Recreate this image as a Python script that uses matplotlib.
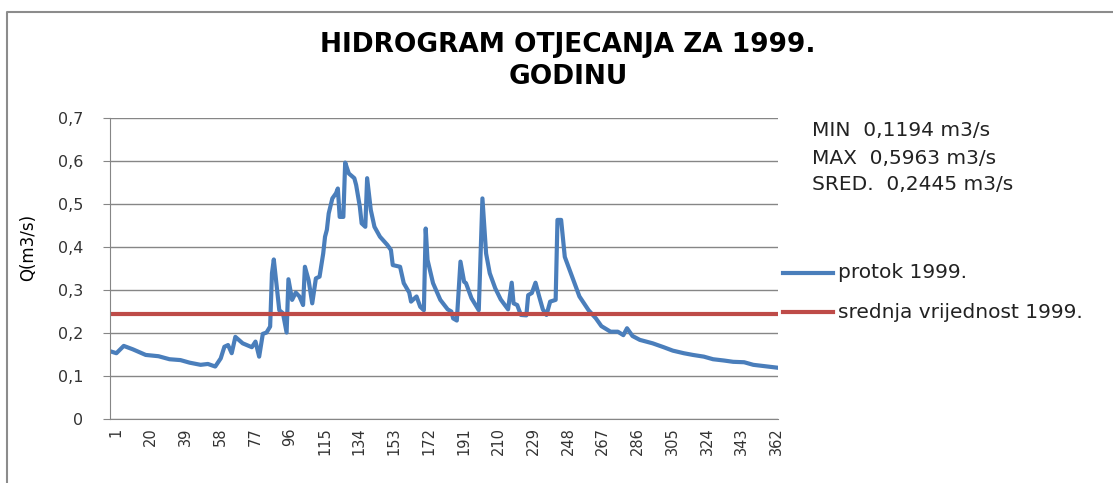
import matplotlib
matplotlib.use('Agg')
import matplotlib.pyplot as plt
from matplotlib.lines import Line2D
from matplotlib.transforms import ScaledTranslation

# daily flow 1999, day of year -> Q [m3/s]
days = [1, 4, 8, 13, 20, 27, 33, 39, 44, 50, 54, 58, 61, 63, 65, 67, 69, 73, 78, 80,
        82, 84, 86, 88, 89, 90, 93, 95, 97, 98, 100, 102, 104, 106, 107, 109, 111, 113, 115, 117,
        118, 119, 120, 122, 124, 125, 126, 128, 129, 131, 134, 135, 137, 138, 140, 141, 143, 145, 148, 152,
        154, 155, 159, 161, 164, 165, 168, 170, 172, 173, 174, 177, 181, 185, 187, 188, 190, 192, 194, 195,
        198, 202, 204, 206, 208, 211, 214, 217, 218, 220, 221, 223, 225, 228, 229, 231, 233, 235, 237, 239,
        241, 244, 245, 247, 249, 251, 254, 257, 262, 266, 269, 274, 278, 281, 283, 286, 290, 297, 303, 308,
        314, 319, 325, 330, 336, 341, 347, 352, 358, 365]
flow = [0.157, 0.153, 0.170, 0.162, 0.149, 0.146, 0.139, 0.137, 0.131, 0.126, 0.128, 0.122, 0.141, 0.168, 0.172, 0.153, 0.191, 0.176, 0.167, 0.180,
        0.145, 0.198, 0.201, 0.215, 0.339, 0.371, 0.253, 0.246, 0.201, 0.325, 0.277, 0.294, 0.285, 0.265, 0.354, 0.323, 0.269, 0.327, 0.331, 0.385,
        0.424, 0.440, 0.478, 0.513, 0.525, 0.536, 0.470, 0.470, 0.5963, 0.571, 0.560, 0.544, 0.494, 0.455, 0.447, 0.560, 0.486, 0.447, 0.424, 0.405,
        0.393, 0.358, 0.354, 0.316, 0.294, 0.273, 0.285, 0.261, 0.253, 0.443, 0.370, 0.316, 0.277, 0.255, 0.250, 0.234, 0.229, 0.366, 0.319, 0.316,
        0.281, 0.253, 0.513, 0.385, 0.339, 0.304, 0.278, 0.261, 0.255, 0.317, 0.269, 0.265, 0.242, 0.241, 0.288, 0.293, 0.317, 0.285, 0.255, 0.242,
        0.273, 0.277, 0.463, 0.463, 0.377, 0.354, 0.319, 0.285, 0.253, 0.234, 0.216, 0.203, 0.203, 0.195, 0.211, 0.193, 0.184, 0.176, 0.167, 0.159,
        0.153, 0.149, 0.145, 0.139, 0.136, 0.133, 0.132, 0.126, 0.123, 0.1194]
q_min = 0.1194
q_max = 0.5963
q_mean = 0.2445
mean_days = [1, 365]

xticks = list(range(1, 366, 19))
yticks = [0, 0.1, 0.2, 0.3, 0.4, 0.5, 0.6, 0.7]
ylabels = ['0', '0,1', '0,2', '0,3', '0,4', '0,5', '0,6', '0,7']

blue = '#4A7EBB'
red = '#BE4B48'
grid = '#868686'

W, H = 1113, 483
fig = plt.figure(figsize=(W / 100, H / 100), dpi=100)
ax = fig.add_axes([110 / W, 1 - 419 / H, 668 / W, 301 / H])

ax.plot(days, flow, color=blue, lw=3, solid_joinstyle='round')
ax.plot(mean_days, [q_mean, q_mean], color=red, lw=3)

ax.set_xlim(0.5, 365.5)
ax.set_ylim(0, 0.7)
ax.set_yticks(yticks)
ax.set_yticklabels(ylabels)
ax.set_xticks(xticks)
ax.set_xticklabels([str(t) for t in xticks], rotation=90)
ax.tick_params(axis='y', length=5, color=grid, pad=14, labelsize=11.5, labelcolor='#333333')
ax.tick_params(axis='x', length=0, pad=6, labelsize=10.5, labelcolor='#333333')
# excel puts the rotated labels a bit right of the category
for lab in ax.get_xticklabels():
    lab.set_transform(lab.get_transform() + ScaledTranslation(5 / 100, 0, fig.dpi_scale_trans))
ax.grid(axis='y', color=grid, lw=1)
ax.set_axisbelow(True)
for s in ['top', 'right']:
    ax.spines[s].set_visible(False)
for s in ['left', 'bottom']:
    ax.spines[s].set_color(grid)

fig.text(28 / W, 1 - 247 / H, 'Q(m3/s)', rotation=90, ha='center', va='center', fontsize=12)

fig.text(568 / W, 1 - 45 / H, 'HIDROGRAM OTJECANJA ZA 1999.', ha='center', va='center',
         fontsize=19, fontweight='bold')
fig.text(568 / W, 1 - 77 / H, 'GODINU', ha='center', va='center', fontsize=19, fontweight='bold')

stats = ['MIN  ' + str(q_min).replace('.', ',') + ' m3/s',
         'MAX  ' + str(q_max).replace('.', ',') + ' m3/s',
         'SRED.  ' + str(q_mean).replace('.', ',') + ' m3/s']
for i, s in enumerate(stats):
    fig.text(812 / W, 1 - (131 + 27 * i) / H, s, ha='left', va='center', fontsize=14.5, color='#222222')

# legend drawn by hand to sit like the excel one
for yy, c, lab in [(273, blue, 'protok 1999.'), (312, red, 'srednja vrijednost 1999.')]:
    fig.add_artist(Line2D([783 / W, 833 / W], [1 - yy / H, 1 - yy / H], color=c, lw=3))
    fig.text(838 / W, 1 - yy / H, lab, ha='left', va='center', fontsize=14.5, color='#222222')

# chart frame
fig.add_artist(Line2D([7 / W, 7 / W, 1], [0, 1 - 12 / H, 1 - 12 / H], color='#8c8c8c', lw=1.5))

plt.savefig('out.png', dpi=100)
